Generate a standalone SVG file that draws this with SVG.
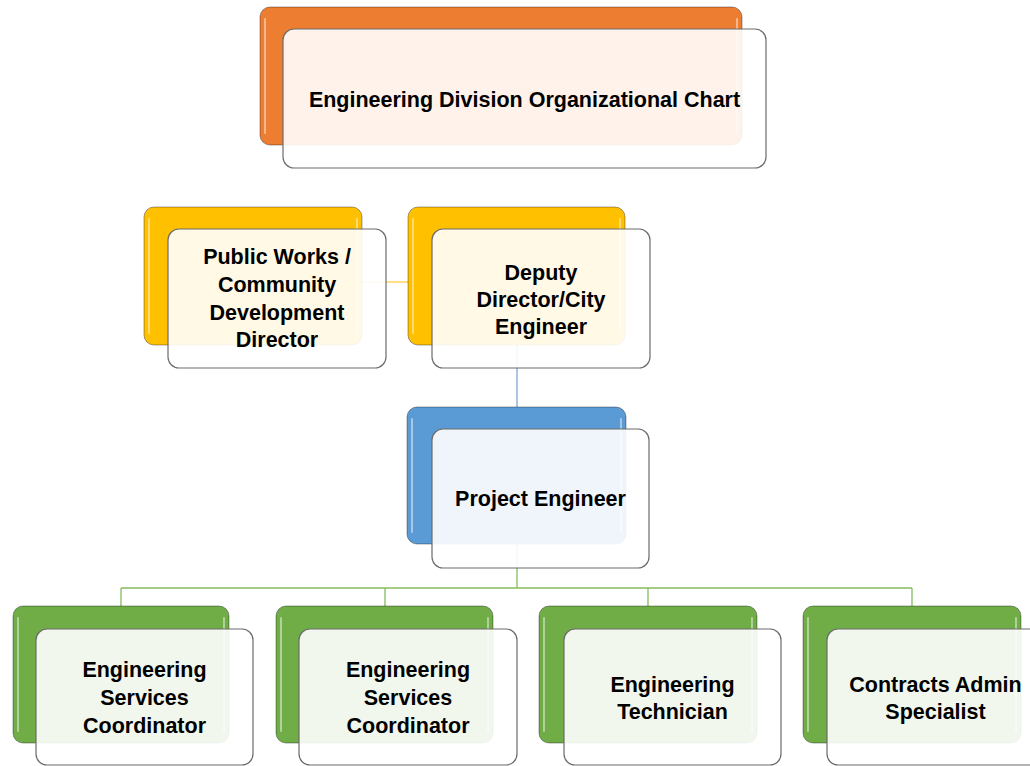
<svg xmlns="http://www.w3.org/2000/svg" width="1030" height="766" viewBox="0 0 1030 766">
<style>
.back{stroke:#000;stroke-opacity:0.35;stroke-width:1}
.hl{stroke:#fff;stroke-opacity:0.45;stroke-width:2;fill:none;stroke-linecap:round}
.front{fill:#fff;fill-opacity:0.9;stroke:#6b6b6b;stroke-width:1.2}
.orange{fill:#ED7D31}
.yellow{fill:#FFC000}
.blue{fill:#5B9BD5}
.green{fill:#70AD47}
text{font-family:"Liberation Sans",Arial,sans-serif;font-weight:bold;font-size:21.5px;fill:#000;text-anchor:middle}
.conn{fill:none;stroke-width:1.3}
</style>
<rect width="1030" height="766" fill="#fff"/>
<g id="connectors">
<path class="conn" stroke="#FFD35C" d="M362,282 H408"/>
<path class="conn" stroke="#7FA8D6" d="M517,345 V407"/>
<path class="conn" stroke="#86BC5E" d="M517,544 V588 M121,588 H912 M121,588 V606 M385,588 V606 M648,588 V606 M912,588 V606"/>
</g>
<g id="node-title">
<rect class="back orange" x="260" y="7" width="482" height="138" rx="10"/>
<path class="hl" d="M265,19 V133 M737,19 V133"/>
<rect class="front" x="283" y="29" width="483" height="139" rx="11"/>
<text x="524.5" y="106.5">Engineering Division Organizational Chart</text>
</g>
<g id="node-public-works">
<rect class="back yellow" x="144" y="207" width="218" height="138" rx="10"/>
<path class="hl" d="M149,219 V333 M357,219 V333"/>
<rect class="front" x="168" y="229" width="218" height="139" rx="11"/>
<text x="277" y="264">Public Works /</text>
<text x="277" y="292">Community</text>
<text x="277" y="320">Development</text>
<text x="277" y="347">Director</text>
</g>
<g id="node-deputy">
<rect class="back yellow" x="408" y="207" width="217" height="138" rx="10"/>
<path class="hl" d="M413,219 V333 M620,219 V333"/>
<rect class="front" x="432" y="229" width="218" height="139" rx="11"/>
<text x="541" y="280">Deputy</text>
<text x="541" y="307">Director/City</text>
<text x="541" y="334">Engineer</text>
</g>
<g id="node-project-engineer">
<rect class="back blue" x="407" y="407" width="219" height="137" rx="10"/>
<path class="hl" d="M412,419 V532 M621,419 V532"/>
<rect class="front" x="432" y="429" width="217" height="139" rx="11"/>
<text x="540.5" y="506">Project Engineer</text>
</g>
<g id="node-esc-1">
<rect class="back green" x="13" y="606" width="216" height="137" rx="10"/>
<path class="hl" d="M18,618 V731 M224,618 V731"/>
<rect class="front" x="36" y="629" width="217" height="136" rx="11"/>
<text x="144.5" y="677">Engineering</text>
<text x="144.5" y="705">Services</text>
<text x="144.5" y="733">Coordinator</text>
</g>
<g id="node-esc-2">
<rect class="back green" x="276" y="606" width="217" height="137" rx="10"/>
<path class="hl" d="M281,618 V731 M488,618 V731"/>
<rect class="front" x="299" y="629" width="218" height="136" rx="11"/>
<text x="408" y="677">Engineering</text>
<text x="408" y="705">Services</text>
<text x="408" y="733">Coordinator</text>
</g>
<g id="node-technician">
<rect class="back green" x="539" y="606" width="218" height="137" rx="10"/>
<path class="hl" d="M544,618 V731 M752,618 V731"/>
<rect class="front" x="564" y="629" width="217" height="136" rx="11"/>
<text x="672.5" y="692">Engineering</text>
<text x="672.5" y="719">Technician</text>
</g>
<g id="node-contracts">
<rect class="back green" x="803" y="606" width="218" height="137" rx="10"/>
<path class="hl" d="M808,618 V731 M1016,618 V731"/>
<rect class="front" x="827" y="629" width="217" height="136" rx="11"/>
<text x="935.5" y="692">Contracts Admin</text>
<text x="935.5" y="719">Specialist</text>
</g>
</svg>
